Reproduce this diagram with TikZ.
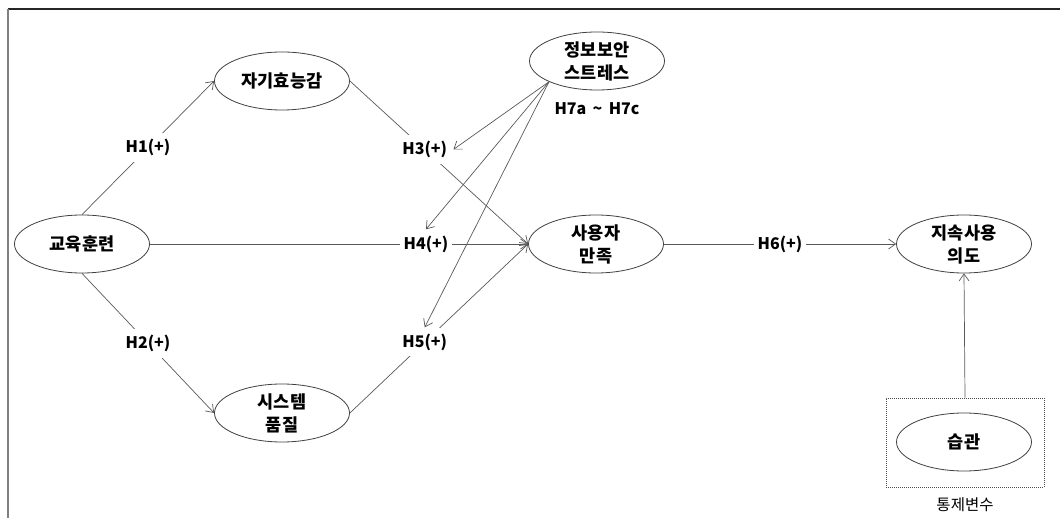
\documentclass[tikz,border=0pt]{standalone}
\usepackage{fontspec}
\setmainfont{Noto Sans CJK KR}
\usetikzlibrary{shapes.geometric,arrows.meta}
\begin{document}
\begin{tikzpicture}[x=1pt,y=-1pt,
  var/.style={ellipse,draw=black!75,line width=0.8pt,minimum width=135pt,
    minimum height=58pt,inner sep=0pt,align=center,
    font=\fontsize{17.5}{23}\selectfont\bfseries},
  hyp/.style={fill=white,inner xsep=4pt,inner ysep=6pt,
    font=\fontsize{16}{18}\selectfont\bfseries},
  link/.style={draw=black!65,line width=0.7pt},
  arr/.style={link,-{Straight Barb[length=7pt,width=10pt]}}]
\useasboundingbox (0,0) rectangle (1060,518);

% frame edges
\draw[black!85,line width=1.2pt] (8,9) -- (1060,9);
\draw[black!50,line width=1.8pt] (8,9) -- (8,518);

% constructs
\node[var] (edu)    at (82,244)  {교육훈련};
\node[var] (self)   at (282,81)  {자기효능감};
\node[var] (sys)    at (282,413) {시스템\\품질};
\node[var] (stress) at (597,61)  {정보보안\\스트레스};
\node[var] (sat)    at (596,244) {사용자\\만족};
\node[var] (cont)   at (964,244) {지속사용\\의도};
\node[var] (habit)  at (964,442) {습관};

% control variable box
\node[draw=black!70,line width=0.9pt,dash pattern=on 1pt off 1pt,
  minimum width=158pt,minimum height=89pt,inner sep=0pt] (ctrl) at (965,442.5) {};
\node[font=\fontsize{15.5}{17}\selectfont] (ctrllab) at (965,505) {통제변수};

% hypothesised paths
\draw[arr] (edu.north) -- node[hyp] (h1) {H1(+)} (self.west);
\draw[arr] (edu.south) -- node[hyp] (h2) {H2(+)} (sys.west);
\draw[arr] (self.east) -- node[hyp,pos=0.42] (h3) {H3(+)} (sat.west);
\draw[arr] (edu.east)  -- node[hyp,pos=0.73] (h4) {H4(+)} (sat.west);
\draw[arr] (sys.east)  -- node[hyp,pos=0.42] (h5) {H5(+)} (sat.west);
\draw[arr] (sat.east)  -- node[hyp] (h6) {H6(+)} (cont.west);
\draw[arr] (ctrl.north) -- (cont.south);

% moderating effect of security stress
\node[font=\fontsize{16}{18}\selectfont\bfseries] (h7) at (597,109) {H7a \,\textasciitilde\, H7c};
\draw[arr] (stress.south west) -- ([xshift=2pt]h3.east);
\draw[arr] (stress.south west) -- (h4.north);
\draw[arr] (stress.south west) -- (h5.north);
\end{tikzpicture}
\end{document}
